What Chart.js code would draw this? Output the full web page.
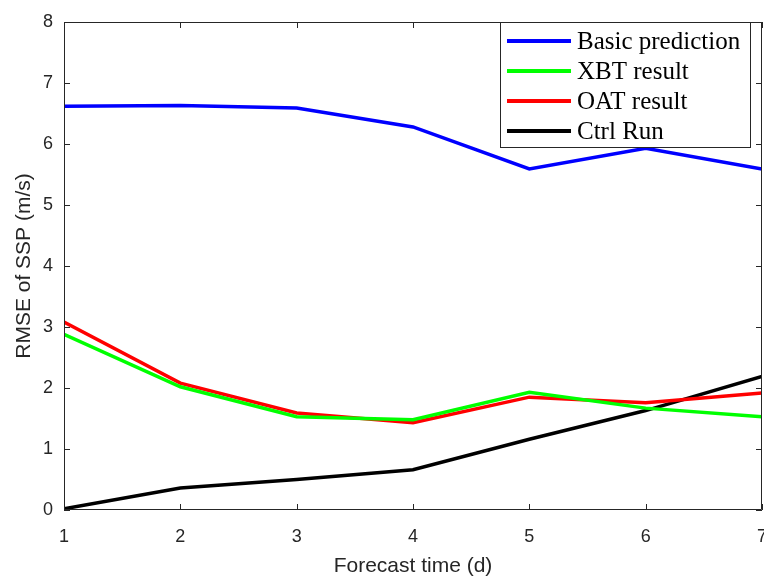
<!DOCTYPE html>
<html lang="en">
<head>
    <meta charset="UTF-8">
    <title>RMSE of SSP</title>
    <script src="https://cdn.jsdelivr.net/npm/chart.js"></script>
    <style>
        body {
            margin: 0;
            padding: 0;
            background: #fff;
        }
        .wrap {
            width: 764px;
            height: 579px;
            position: relative;
        }
    </style>
</head>
<body>
    <div class="wrap">
        <canvas id="rmseChart" width="764" height="579"></canvas>
    </div>
    <script>
    // forecast days and RMSE values
    const days = [1, 2, 3, 4, 5, 6, 7];
    const basicPrediction = [6.62, 6.63, 6.59, 6.28, 5.59, 5.93, 5.59];
    const xbtResult = [2.88, 2.02, 1.53, 1.48, 1.93, 1.67, 1.53];
    const oatResult = [3.08, 2.08, 1.59, 1.43, 1.85, 1.76, 1.92];
    const ctrlRun = [0.02, 0.36, 0.50, 0.66, 1.16, 1.63, 2.19];
    const yTicks = [0, 1, 2, 3, 4, 5, 6, 7, 8];

    const axisColor = '#262626';
    const sansFont = "'Liberation Sans', Arial, sans-serif";
    const serifFont = "'Liberation Serif', 'Times New Roman', serif";

    function toPoints(values) {
        return days.map((d, i) => ({ x: d, y: values[i] }));
    }

    // matlab-like frame: top/right edges and inward ticks
    const framePlugin = {
        id: 'frame',
        afterDraw(chart) {
            const { ctx, chartArea: a, scales } = chart;
            ctx.save();
            ctx.strokeStyle = axisColor;
            ctx.lineWidth = 1;
            ctx.beginPath();
            ctx.rect(a.left + 0.5, a.top + 0.5, a.right - a.left - 1, a.bottom - a.top - 1);
            const len = 6;
            days.forEach(d => {
                const px = Math.round(scales.x.getPixelForValue(d)) + 0.5;
                ctx.moveTo(px, a.bottom); ctx.lineTo(px, a.bottom - len);
                ctx.moveTo(px, a.top); ctx.lineTo(px, a.top + len);
            });
            yTicks.forEach(v => {
                const py = Math.round(scales.y.getPixelForValue(v)) + 0.5;
                ctx.moveTo(a.left, py); ctx.lineTo(a.left + len, py);
                ctx.moveTo(a.right, py); ctx.lineTo(a.right - len, py);
            });
            ctx.stroke();
            ctx.restore();
        }
    };

    // legend box in the top right corner
    const legendPlugin = {
        id: 'boxLegend',
        afterDraw(chart) {
            const { ctx, chartArea: a } = chart;
            const x0 = 500, y0 = a.top, w = 250, h = 125;
            ctx.save();
            ctx.fillStyle = '#fff';
            ctx.fillRect(x0, y0, w, h);
            ctx.strokeStyle = axisColor;
            ctx.lineWidth = 1;
            ctx.strokeRect(x0 + 0.5, y0 + 0.5, w, h);
            ctx.font = '25px ' + serifFont;
            ctx.textBaseline = 'middle';
            chart.data.datasets.forEach((ds, i) => {
                const cy = y0 + 19 + i * 30;
                ctx.strokeStyle = ds.borderColor;
                ctx.lineWidth = 4;
                ctx.beginPath();
                ctx.moveTo(507, cy);
                ctx.lineTo(571, cy);
                ctx.stroke();
                ctx.fillStyle = '#000';
                ctx.fillText(ds.label, 577, cy + 1);
            });
            ctx.restore();
        }
    };

    const mk = (label, values, color) => ({
        label: label,
        data: toPoints(values),
        borderColor: color,
        backgroundColor: color,
        borderWidth: 3.5,
        pointRadius: 0,
        tension: 0
    });

    new Chart(document.getElementById('rmseChart').getContext('2d'), {
        type: 'line',
        data: {
            datasets: [
                mk('Basic prediction', basicPrediction, '#0000ff'),
                mk('XBT result', xbtResult, '#00ff00'),
                mk('OAT result', oatResult, '#ff0000'),
                mk('Ctrl Run', ctrlRun, '#000000')
            ]
        },
        options: {
            responsive: false,
            animation: false,
            layout: { padding: { left: 0, right: 2, top: 22, bottom: 0 } },
            plugins: {
                legend: { display: false },
                tooltip: { enabled: false }
            },
            scales: {
                x: {
                    type: 'linear',
                    min: 1,
                    max: 7,
                    grid: { display: false, drawTicks: false },
                    border: { display: false },
                    ticks: {
                        stepSize: 1,
                        padding: 16,
                        color: axisColor,
                        font: { family: sansFont, size: 18 },
                        maxRotation: 0
                    },
                    title: {
                        display: true,
                        text: 'Forecast time (d)',
                        color: axisColor,
                        font: { family: sansFont, size: 21 },
                        padding: { top: 0, bottom: 0 }
                    },
                    afterFit(scale) {
                        scale.height = 69;
                        scale.paddingLeft = 0;
                        scale.paddingRight = 0;
                    }
                },
                y: {
                    min: 0,
                    max: 8,
                    grid: { display: false, drawTicks: false },
                    border: { display: false },
                    ticks: {
                        stepSize: 1,
                        padding: 11,
                        color: axisColor,
                        font: { family: sansFont, size: 18 }
                    },
                    title: {
                        display: true,
                        text: 'RMSE of SSP (m/s)',
                        color: axisColor,
                        font: { family: sansFont, size: 21 },
                        padding: { top: 12, bottom: 8 }
                    },
                    afterFit(scale) {
                        scale.width = 64;
                    }
                }
            }
        },
        plugins: [framePlugin, legendPlugin]
    });
    </script>
</body>
</html>
